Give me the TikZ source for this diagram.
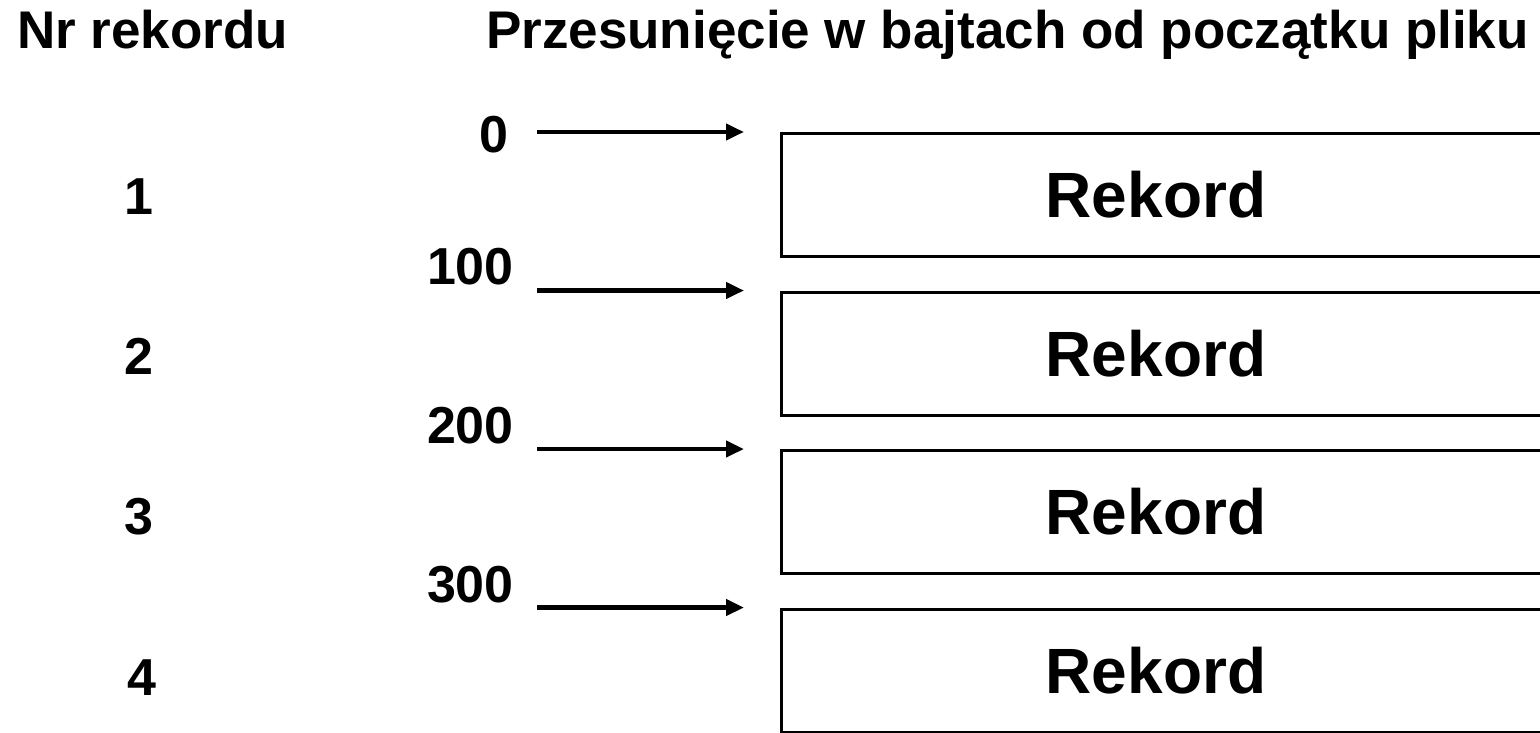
\documentclass[tikz,border=0pt]{standalone}
\usepackage{fontspec}
\setmainfont{Liberation Sans}
\usetikzlibrary{arrows.meta}
\begin{document}
\begin{tikzpicture}[x=1pt,y=-1pt,
  hdr/.style={font=\fontsize{53}{60}\selectfont\bfseries, inner sep=0pt, anchor=base west},
  num/.style={font=\fontsize{52}{60}\selectfont\bfseries, inner sep=0pt, anchor=base},
  offs/.style={font=\fontsize{52}{60}\selectfont\bfseries, inner sep=0pt, anchor=base east},
  recbox/.style={draw, line width=3pt, minimum width=800pt, minimum height=123pt,
    inner sep=0pt, anchor=north west},
  rek/.style={font=\fontsize{64}{70}\selectfont\bfseries, inner sep=0pt, anchor=base},
  ptr/.style={line width=4.5pt, -{Triangle[length=18pt,width=16pt]}}]
\useasboundingbox (0,0) rectangle (1540,733);

% column headers
\node[hdr] (h1) at (17,49) {Nr rekordu};
\node[hdr] (h2) at (486,49) {Przesunięcie w bajtach od początku pliku};

% record boxes (open to the right)
\node[recbox] (b1) at (780,132) {};
\node[recbox] (b2) at (780,290.5) {};
\node[recbox] (b3) at (780,449) {};
\node[recbox] (b4) at (780,607.5) {};
\node[rek] (t1) at (1156,217) {Rekord};
\node[rek] (t2) at (1156,376) {Rekord};
\node[rek] (t3) at (1156,534) {Rekord};
\node[rek] (t4) at (1156,693) {Rekord};

% record numbers
\node[num] (n1) at (139,214) {1};
\node[num] (n2) at (139,374) {2};
\node[num] (n3) at (139,534) {3};
\node[num] (n4) at (142,695) {4};

% byte offsets with pointers to the start of each record
\node[offs] (o1) at (509,153) {0};
\node[offs] (o2) at (514,284) {100};
\node[offs] (o3) at (514,443) {200};
\node[offs] (o4) at (514,602) {300};
\coordinate (s1) at (537,132);
\coordinate (s2) at (537,290.5);
\coordinate (s3) at (537,449);
\coordinate (s4) at (537,607.5);
\draw[ptr] (s1) -- (s1 -| 744,0);
\draw[ptr] (s2) -- (s2 -| 744,0);
\draw[ptr] (s3) -- (s3 -| 744,0);
\draw[ptr] (s4) -- (s4 -| 744,0);
\end{tikzpicture}
\end{document}
